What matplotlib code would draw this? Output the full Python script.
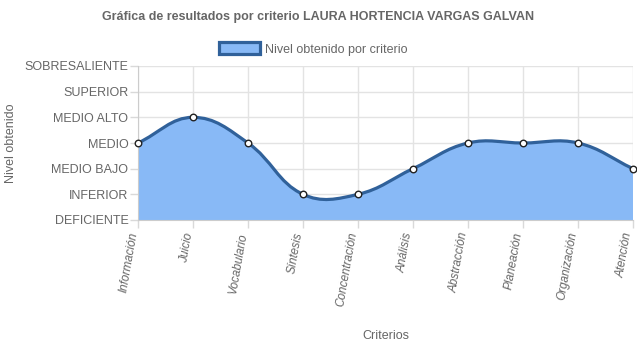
import matplotlib.pyplot as plt
import numpy as np
from matplotlib.path import Path
from matplotlib.patches import PathPatch, Patch
from matplotlib.transforms import ScaledTranslation

plt.rcParams['font.family'] = ['Liberation Sans', 'DejaVu Sans']

# Data
criterios = ["Información", "Juicio", "Vocabulario", "Síntesis", "Concentración",
             "Análisis", "Abstracción", "Planeación", "Organización", "Atención"]
niveles = ["DEFICIENTE", "INFERIOR", "MEDIO BAJO", "MEDIO", "MEDIO ALTO",
           "SUPERIOR", "SOBRESALIENTE"]
valores = [3, 4, 3, 1, 1, 2, 3, 3, 3, 2]

line_color = '#30619a'
fill_color = '#88b9f6'
grey = '#666666'

fig = plt.figure(figsize=(6.37, 3.48), dpi=100)
ax = fig.add_axes([138 / 637, 128 / 348, 495 / 637, 154 / 348])
x = np.arange(len(criterios))
ax.set_xlim(0, len(criterios) - 1)
ax.set_ylim(0, len(niveles) - 1)

# Chart.js style bezier (tension 0.4), computed in pixel space
fig.canvas.draw()
pts = ax.transData.transform(np.column_stack([x, valores]))
t = 0.4
n = len(pts)
cp_prev = np.zeros_like(pts)
cp_next = np.zeros_like(pts)
for i in range(n):
    p0 = pts[i - 1] if i > 0 else pts[i]
    p1 = pts[i]
    p2 = pts[i + 1] if i < n - 1 else pts[i]
    d01 = np.hypot(*(p1 - p0))
    d12 = np.hypot(*(p2 - p1))
    s01 = d01 / (d01 + d12)
    s12 = d12 / (d01 + d12)
    cp_prev[i] = p1 - t * s01 * (p2 - p0)
    cp_next[i] = p1 + t * s12 * (p2 - p0)
verts = [pts[0]]
codes = [Path.MOVETO]
for i in range(n - 1):
    verts += [cp_next[i], cp_prev[i + 1], pts[i + 1]]
    codes += [Path.CURVE4] * 3
inv = ax.transData.inverted()
verts = inv.transform(np.array(verts))

fill_verts = np.vstack([verts, [[x[-1], 0], [x[0], 0], verts[0]]])
fill_codes = codes + [Path.LINETO, Path.LINETO, Path.CLOSEPOLY]
ax.add_patch(PathPatch(Path(fill_verts, fill_codes), facecolor=fill_color,
                       edgecolor='none', zorder=2))
ax.add_patch(PathPatch(Path(verts, codes), facecolor='none',
                       edgecolor=line_color, lw=2.3, zorder=3))
ax.scatter(x, valores, s=22, facecolor='white', edgecolor='#222222',
           linewidths=1, zorder=4, clip_on=False)

# Axes styling
ax.set_yticks(range(len(niveles)))
ax.set_yticklabels(niveles, fontsize=9, color=grey)
ax.set_xticks(x)
ax.set_xticklabels([])
# x labels drawn by hand so they can sit a touch left of the tick
lab_tr = ax.get_xaxis_transform() + ScaledTranslation(-3 / 72, -9 / 72, fig.dpi_scale_trans)
for xi, name in zip(x, criterios):
    ax.text(xi, 0, name, transform=lab_tr, fontsize=8.5, color=grey, style='italic',
            rotation=80, ha='right', va='center', rotation_mode='anchor', clip_on=False)
ax.tick_params(axis='both', length=6, color='#d9d9d9', width=1)
ax.tick_params(axis='y', pad=1)
ax.grid(True, color='#e3e3e3', lw=1, zorder=0)
ax.set_axisbelow(True)
for s in ['top', 'right']:
    ax.spines[s].set_visible(False)
for s in ['left', 'bottom']:
    ax.spines[s].set_color('#cccccc')

ax.set_ylabel("Nivel obtenido", fontsize=9, color=grey)
ax.yaxis.set_label_coords(-0.245, 0.5)
fig.text(385.5 / 637, 1 - 336 / 348, "Criterios", fontsize=9, color=grey,
         ha='center', va='center')

fig.text(318 / 637, 1 - 17 / 348,
         "Gráfica de resultados por criterio LAURA HORTENCIA VARGAS GALVAN",
         fontsize=9, fontweight='bold', color=grey, ha='center', va='center')

leg = fig.legend(handles=[Patch(facecolor=fill_color, edgecolor=line_color, lw=2.3,
                                label="Nivel obtenido por criterio")],
                 loc='center', bbox_to_anchor=(313 / 637, 1 - 49 / 348),
                 frameon=False, fontsize=9, handlelength=3.3, handleheight=1.1,
                 handletextpad=0.4)
for txt in leg.get_texts():
    txt.set_color(grey)

fig.savefig("out.png", dpi=100)
